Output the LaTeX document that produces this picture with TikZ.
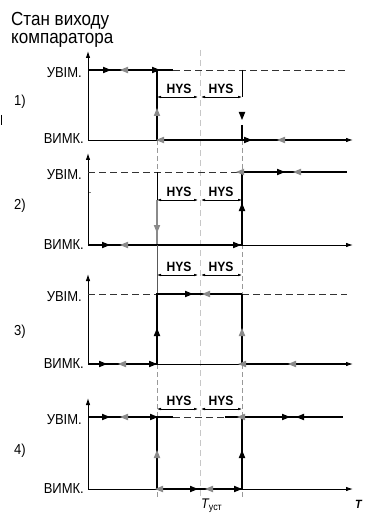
\documentclass[tikz,border=0pt]{standalone}
\usepackage{fontspec}
\setmainfont[FakeStretch=0.9]{Liberation Sans}
\usetikzlibrary{arrows.meta}
\newcommand{\tri}[4]{\fill[#4,shift={(#1,#2)},rotate=#3] (0,0)--(-8,-3.3)--(-8,3.3)--cycle;}
\tikzset{
  axisline/.style={line width=0.9bp,-{Latex[length=7bp,width=4.5bp]}},
  heavy/.style={line width=1.9bp},
  lite/.style={line width=0.9bp},
  dashline/.style={line width=0.8bp,black!80,dash pattern=on 7bp off 4bp},
  guide/.style={line width=0.7bp,black!40,dash pattern=on 5bp off 3bp},
  cguide/.style={line width=0.7bp,black!22,dash pattern=on 6bp off 4bp},
  dimline/.style={line width=0.6bp,{Latex[length=4bp,width=2.6bp]}-{Latex[length=4bp,width=2.6bp]}},
  lbl/.style={font=\fontsize{14.5}{16}\selectfont,inner sep=0pt},
  hys/.style={font=\bfseries\fontsize{13.5}{15}\selectfont,inner sep=0pt,anchor=base},
  ttl/.style={font=\fontsize{19}{22}\selectfont,inner sep=0pt,anchor=base west},
}
\definecolor{gr}{gray}{0.54}
\begin{document}
\begin{tikzpicture}[x=1bp,y=-1bp]
\useasboundingbox (0,0) rectangle (364,514);
% guides
\draw[cguide] (200,50)--(200,496);
\draw[guide] (157,140)--(157,500);
\draw[guide] (242,140)--(242,500);
% title
\node[ttl] (t1) at (11,26) {Стан виходу};
\node[ttl] (t2) at (11,44) {компаратора};
\draw[line width=1.5bp] (1.5,115)--(1.5,125);
% ---------- panel 1
\node[lbl,anchor=base west] (n1) at (14,106) {1)};
\node[lbl,anchor=base east] (on1) at (82,77.5) {УВІМ.};
\node[lbl,anchor=base east] (off1) at (84,144) {ВИМК.};
\draw[axisline] (88,140)--(88,51);
\draw[axisline] (88,140)--(353,140);
\draw[heavy] (88,70)--(173,70);
\draw[dashline] (173,70)--(347,70);
\draw[heavy] (157,70)--(157,140);
\draw[lite] (242,70)--(242,97);
\draw[heavy] (242,125)--(242,140);
\draw[heavy] (157,140)--(346,140);
\draw[dimline] (157,97)--(198,97);
\draw[dimline] (201,97)--(242,97);
\node[hys] (h1a) at (179,93.5) {HYS};
\node[hys] (h1b) at (221,93.5) {HYS};
\tri{111}{70}{0}{black}\tri{120}{70}{180}{gr}\tri{160}{70}{0}{black}
\tri{157}{108}{90}{gr}
\tri{242}{120}{-90}{black}
\tri{156}{140}{180}{gr}\tri{252}{140}{0}{black}\tri{277}{140}{180}{gr}
% ---------- panel 2
\node[lbl,anchor=base west] (n2) at (14,209.5) {2)};
\node[lbl,anchor=base east] (on2) at (82,179.5) {УВІМ.};
\node[lbl,anchor=base east] (off2) at (84,249) {ВИМК.};
\draw[black!50,line width=0.6bp] (88,192)--(91,192);
\draw[axisline] (88,245)--(88,153);
\draw[axisline] (88,245)--(353,245);
\draw[dashline] (88,172)--(242,172);
\draw[heavy] (242,172)--(347,172);
\draw[heavy] (242,245)--(242,172);
\draw[lite] (157,172)--(157,200);
\draw[line width=1.3bp,gr] (157,200)--(157,245);
\draw[heavy] (88,245)--(242,245);
\draw[dimline] (157,200)--(198,200);
\draw[dimline] (201,200)--(242,200);
\node[hys] (h2a) at (179,196.5) {HYS};
\node[hys] (h2b) at (221,196.5) {HYS};
\tri{236}{172}{180}{gr}\tri{285}{172}{0}{black}\tri{293}{172}{180}{gr}
\tri{157}{233}{-90}{gr}\tri{242}{203}{90}{black}
\tri{110}{245}{0}{black}\tri{120}{245}{180}{gr}\tri{241}{245}{0}{black}
% ---------- panel 3
\node[lbl,anchor=base west] (n3) at (14,335) {3)};
\node[lbl,anchor=base east] (on3) at (82,301.5) {УВІМ.};
\node[lbl,anchor=base east] (off3) at (84,368) {ВИМК.};
\draw[line width=0.9bp,black!65] (157,245)--(157,294);
\draw[axisline] (88,364)--(88,274);
\draw[axisline] (88,364)--(353,364);
\draw[dashline] (88,294)--(157,294);
\draw[dashline] (242,294)--(347,294);
\draw[heavy] (157,364)--(157,294)--(242,294);
\draw[line width=1.4bp] (242,294)--(242,364);
\draw[heavy] (88,364)--(157,364);
\draw[heavy] (242,364)--(346,364);
\draw[dimline] (157,275)--(198,275);
\draw[dimline] (201,275)--(242,275);
\node[hys] (h3a) at (179,271.5) {HYS};
\node[hys] (h3b) at (221,271.5) {HYS};
\tri{193}{294}{0}{black}\tri{202}{294}{180}{gr}
\tri{157}{328}{90}{black}\tri{242}{328}{90}{gr}
\tri{107}{364}{0}{black}\tri{118}{364}{180}{gr}\tri{157}{364}{0}{black}
\tri{238}{364}{180}{gr}\tri{288}{364}{180}{gr}
% ---------- panel 4
\node[lbl,anchor=base west] (n4) at (14,454) {4)};
\node[lbl,anchor=base east] (on4) at (82,424.5) {УВІМ.};
\node[lbl,anchor=base east] (off4) at (84,493) {ВИМК.};
\draw[axisline] (88,489)--(88,398);
\draw[axisline] (88,489)--(353,489);
\draw[heavy] (88,417)--(173,417);
\draw[dashline] (173,417)--(225,417);
\draw[heavy] (225,417)--(343,417);
\draw[heavy] (157,417)--(157,489)--(242,489)--(242,417);
\draw[dimline] (157,409)--(198,409);
\draw[dimline] (201,409)--(242,409);
\node[hys] (h4a) at (179,405.5) {HYS};
\node[hys] (h4b) at (221,405.5) {HYS};
\tri{110}{417}{0}{black}\tri{120}{417}{180}{gr}\tri{158}{417}{0}{black}
\tri{237}{417}{180}{gr}\tri{290}{417}{0}{black}\tri{296}{417}{180}{black}
\tri{157}{450}{90}{gr}\tri{242}{450}{90}{black}
\tri{155}{489}{180}{gr}\tri{198}{489}{0}{black}\tri{205}{489}{180}{gr}\tri{242}{489}{0}{black}
% bottom labels
\node[inner sep=0pt,anchor=base west] (tset) at (201,508) {\fontsize{14}{14}\selectfont\itshape Т\upshape\fontsize{10}{10}\selectfont\raisebox{-2bp}{уст}};
\node[inner sep=0pt,anchor=base west] (tax) at (355,508) {\fontsize{12}{12}\selectfont\bfseries\itshape T};
\end{tikzpicture}
\end{document}
